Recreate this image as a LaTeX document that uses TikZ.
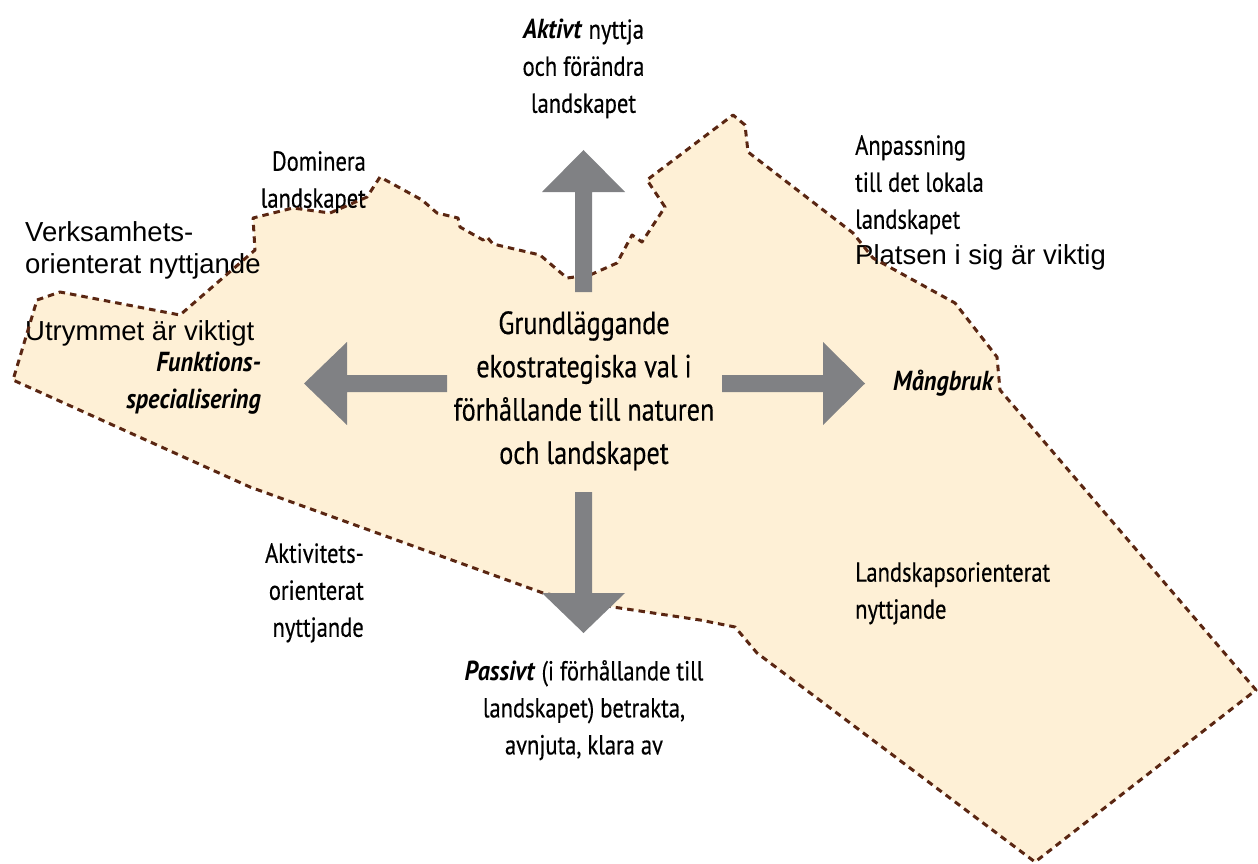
\documentclass[tikz,border=0pt]{standalone}
\usepackage{fontspec}
\setmainfont{PT Sans}[FakeStretch=0.82, UprightFeatures={FakeBold=0.4}, BoldItalicFeatures={FakeStretch=0.88}]
\newfontfamily\arialfont{Liberation Sans}
\definecolor{FieldBeige}{RGB}{254,240,214}
\definecolor{EdgeBrown}{RGB}{90,38,18}
\definecolor{ArrowGray}{RGB}{128,129,132}
% outline of the landscape field
\def\fieldoutline{(37,300) -- (60,292) -- (180,315) -- (255,250) -- (253,218) -- (293,208) -- (330,213) -- (367,197) -- (380,177) -- (422,200) -- (437,213) -- (458,218) -- (460,227) -- (483,240) -- (487,237) -- (493,244) -- (540,255) -- (567,278) -- (590,275) -- (617,263) -- (632,235) -- (642,242) -- (665,207) -- (647,180) -- (733,115) -- (745,125) -- (748,152) -- (853,233) -- (873,258) -- (955,303) -- (997,357) -- (1000,390) -- (1256,690) -- (1035,862) -- (757,653) -- (735,627) -- (700,620) -- (613,607) -- (543,593) -- (250,487) -- (13,380) -- cycle}

\begin{document}
\begin{tikzpicture}[x=1pt,y=1pt,yscale=-1,xscale=1,
		field/.style={draw=EdgeBrown, line width=3pt, dash pattern=on 6.5pt off 5pt, line join=round},
		blockarrow/.style={fill=ArrowGray},
		small/.style={inner sep=0pt, font=\fontsize{27.5}{37}\selectfont},
		big/.style={inner sep=0pt, align=center, font=\fontsize{32}{43.3}\selectfont},
		plain/.style={inner sep=0pt, font=\arialfont\fontsize{27.5}{32}\selectfont}]
		\useasboundingbox (0,0) rectangle (1258,864);

		% Fill the landscape field
		\fill[FieldBeige] \fieldoutline;

		% Texts
		\node[small, anchor=north, align=center] (aktivt) at (583.5,19) {\textbf{\textit{Aktivt}} nyttja\\och förändra\\landskapet};
		\node[small, anchor=north east, align=right] (dominera) at (366,151) {Dominera\\landskapet};
		\node[plain, anchor=north west, align=left] (verksamhet) at (25,221) {Verksamhets-\\orienterat nyttjande};
		\node[plain, anchor=base west] (utrymme) at (25,340) {Utrymmet är viktigt};
		\node[small, anchor=north east, align=right] (funktion) at (261,352) {\bfseries\itshape Funktions-\\\bfseries\itshape specialisering};
		\node[small, anchor=base west] (mangbruk) at (893,390) {\textbf{\textit{Mångbruk}}};
		\node[small, anchor=north west, align=left] (anpassning) at (855,135) {Anpassning\\till det lokala\\landskapet};
		\node[plain, anchor=base west] (platsen) at (855,264) {Platsen i sig är viktig};
		\node[big, anchor=north] (valet) at (584,311) {Grundläggande\\ekostrategiska val i\\förhållande till naturen\\och landskapet};
		\node[small, anchor=north east, align=right] (aktivitet) at (364,543) {Aktivitets-\\orienterat\\nyttjande};
		\node[small, anchor=north west, align=left] (landskap) at (855,562) {Landskapsorienterat\\nyttjande};
		\node[small, anchor=north, align=center] (passivt) at (584,660) {\textbf{\textit{Passivt}} (i förhållande till\\landskapet) betrakta,\\avnjuta, klara av};

		% Dashed border of the field
		\draw[field] \fieldoutline;

		% Block arrows: up, down, left, right
		\fill[blockarrow] (575,292) -- (575,192) -- (542,192) -- (583.5,150) -- (625,192) -- (592,192) -- (592,292) -- cycle;
		\fill[blockarrow] (575,492) -- (575,593) -- (542,593) -- (583.5,633) -- (625,593) -- (592,593) -- (592,492) -- cycle;
		\fill[blockarrow] (447,375) -- (347,375) -- (347,342) -- (304,383.5) -- (347,425) -- (347,392) -- (447,392) -- cycle;
		\fill[blockarrow] (722,375) -- (823,375) -- (823,342) -- (865,383.5) -- (823,425) -- (823,392) -- (722,392) -- cycle;
	\end{tikzpicture}
\end{document}
